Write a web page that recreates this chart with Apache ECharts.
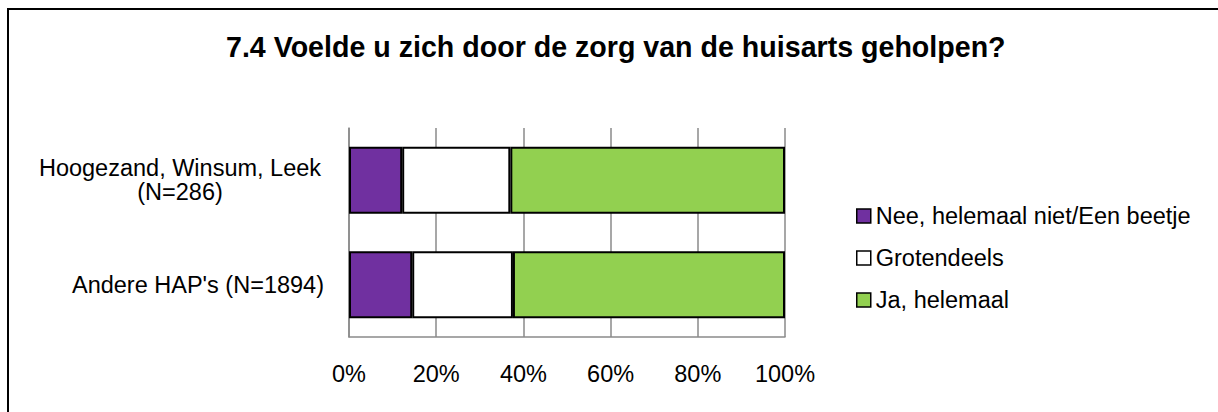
<!DOCTYPE html>
<html>
<head>
<meta charset="utf-8">
<script src="https://cdn.jsdelivr.net/npm/echarts@6/dist/echarts.min.js"></script>
<style>
  html, body { margin: 0; padding: 0; background: #fff; overflow: hidden; }
  #chart { width: 1218px; height: 412px; }
</style>
</head>
<body>
<div id="chart"></div>
<script>
// data (percentages)
const categories = ["Hoogezand, Winsum, Leek\n(N=286)", "Andere HAP's (N=1894)"];
const seriesNames = ["Nee, helemaal niet/Een beetje", "Grotendeels", "Ja, helemaal"];
const neeValues = [12.2, 14.5];
const grotendeelsValues = [24.8, 23.1];
const jaValues = [63.0, 62.4];
const seriesColors = ["#7030A0", "#FFFFFF", "#92D050"];
const titleText = "7.4 Voelde u zich door de zorg van de huisarts geholpen?";

const FONT = "'Liberation Sans', Arial, sans-serif";
const gridColor = "#8a8a8a";
const labelSize = 23.5;

const chart = echarts.init(document.getElementById("chart"), null, { renderer: "svg" });

const makeSeries = (name, data, color) => ({
  name: name,
  type: "bar",
  stack: "total",
  data: data,
  barWidth: 67,
  itemStyle: {
    color: color,
    borderColor: "#000",
    borderWidth: 2,
  },
  emphasis: { disabled: true },
});

const option = {
  animation: false,
  textStyle: { fontFamily: FONT },
  graphic: [
    {
      // outer chart frame (runs off the right and bottom edge)
      type: "rect",
      shape: { x: 8, y: 9, width: 1400, height: 600 },
      style: { fill: "none", stroke: "#000", lineWidth: 2 },
      silent: true,
    },
  ],
  title: {
    text: titleText,
    left: 226,
    top: 32,
    padding: 0,
    textStyle: {
      fontFamily: FONT,
      fontSize: 28.6,
      fontWeight: "bold",
      color: "#000",
    },
  },
  legend: {
    orient: "vertical",
    left: 856,
    top: 204,
    padding: 0,
    itemWidth: 14,
    itemHeight: 14,
    itemGap: 18,
    icon: "rect",
    data: seriesNames,
    textStyle: { fontFamily: FONT, fontSize: labelSize, color: "#000" },
    itemStyle: { borderColor: "#000", borderWidth: 1.5 },
  },
  grid: {
    left: 349,
    right: 433,
    top: 128,
    bottom: 75,
  },
  xAxis: {
    type: "value",
    min: 0,
    max: 100,
    interval: 20,
    axisLine: { show: true, lineStyle: { color: gridColor, width: 1.5 } },
    axisTick: { show: false },
    splitLine: { show: true, lineStyle: { color: gridColor, width: 1.5 } },
    axisLabel: {
      formatter: "{value}%",
      margin: 25,
      fontFamily: FONT,
      fontSize: labelSize,
      color: "#000",
    },
  },
  yAxis: {
    type: "category",
    inverse: true,
    data: categories,
    axisLine: { show: true, lineStyle: { color: gridColor, width: 1.5 } },
    axisTick: { show: false },
    axisLabel: {
      margin: 25,
      color: "#000",
      formatter: (val) => {
        const lines = val.split("\n");
        if (lines.length > 1) {
          return lines.map((l) => "{c|" + l + "}").join("\n");
        }
        return "{r|" + val + "}";
      },
      rich: {
        c: { width: 288, align: "center", fontFamily: FONT, fontSize: labelSize, lineHeight: 24, color: "#000" },
        r: { fontFamily: FONT, fontSize: labelSize, color: "#000" },
      },
    },
  },
  series: [
    makeSeries(seriesNames[0], neeValues, seriesColors[0]),
    makeSeries(seriesNames[1], grotendeelsValues, seriesColors[1]),
    makeSeries(seriesNames[2], jaValues, seriesColors[2]),
  ],
};

chart.setOption(option);
</script>
</body>
</html>
